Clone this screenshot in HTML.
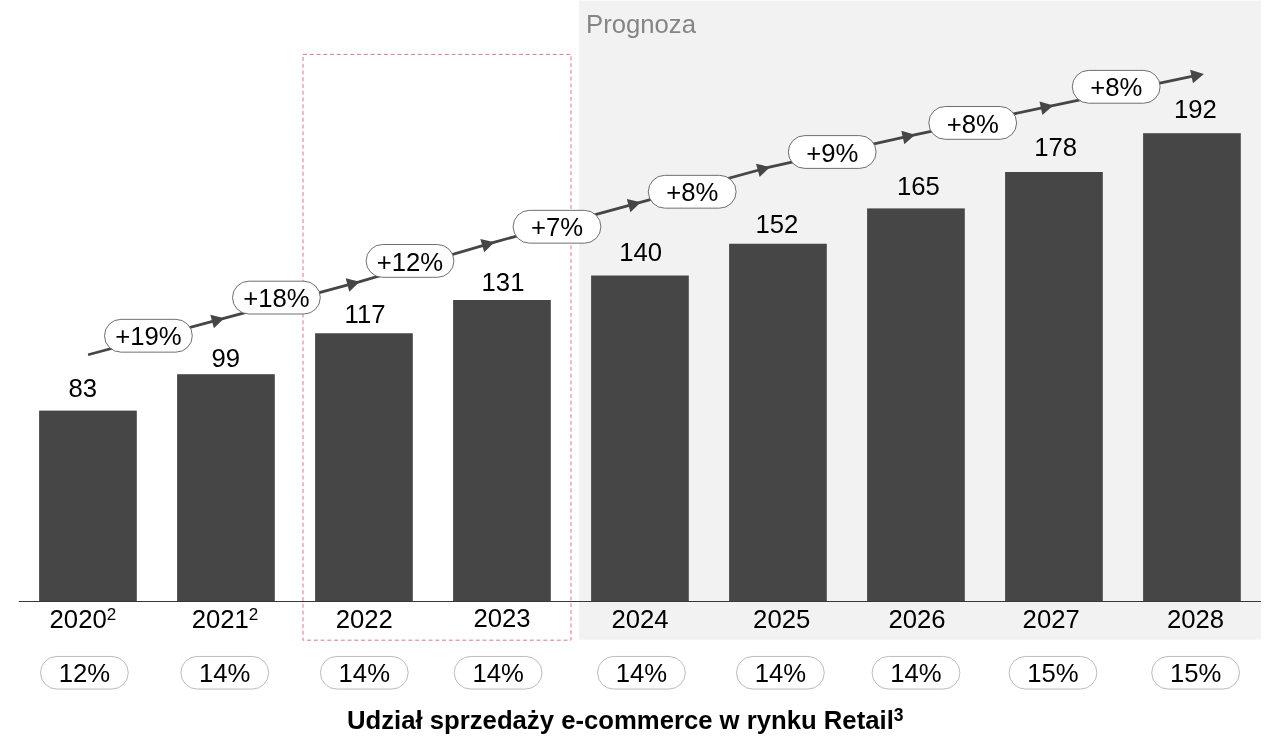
<!DOCTYPE html>
<html lang="pl"><head><meta charset="utf-8"><title>Udział sprzedaży e-commerce w rynku Retail</title>
<style>
html,body{margin:0;padding:0;background:#fff;}
body{width:1280px;height:750px;overflow:hidden;}
svg{display:block;}
text{font-family:"Liberation Sans",Arial,Helvetica,sans-serif;fill:#000;}
</style></head><body>
<svg width="1280" height="750" viewBox="0 0 1280 750">
<rect x="0" y="0" width="1280" height="750" fill="#fff"/>
<rect x="579.1" y="0.6" width="681.9" height="639.1" fill="#f2f2f2"/>
<text x="586" y="33" font-size="25.7" style="fill:#858585">Prognoza</text>
<rect x="303" y="54.4" width="268" height="585.8" fill="none" stroke="#dc7795" stroke-width="1" stroke-dasharray="4 2.75"/>
<rect x="39.1" y="410.6" width="97.7" height="191.4" fill="#464646"/>
<rect x="177.1" y="374.2" width="97.7" height="227.8" fill="#464646"/>
<rect x="315.1" y="333.25" width="97.7" height="268.75" fill="#464646"/>
<rect x="453.1" y="300" width="97.7" height="302" fill="#464646"/>
<rect x="591.1" y="275.5" width="97.7" height="326.5" fill="#464646"/>
<rect x="729.1" y="243.75" width="97.7" height="358.25" fill="#464646"/>
<rect x="867.1" y="208.4" width="97.7" height="393.6" fill="#464646"/>
<rect x="1005.1" y="172" width="97.7" height="430" fill="#464646"/>
<rect x="1143.1" y="133.2" width="97.7" height="468.8" fill="#464646"/>
<line x1="18.8" y1="601.5" x2="1261" y2="601.5" stroke="#383838" stroke-width="1"/>
<polyline points="88.1,354.75 223.7,318.4 359.1,281.9 493.8,242.3 640.2,202.4 769.4,167.2 914.5,134.85 1052.7,105.7 1195.47,75.7428" fill="none" stroke="#464646" stroke-width="2.8" stroke-linecap="butt" stroke-linejoin="round"/>
<polygon points="224.28,318.24 213.90,328.17 210.32,314.84" fill="#464646"/>
<polygon points="359.68,281.74 349.31,291.69 345.72,278.36" fill="#464646"/>
<polygon points="494.38,242.13 484.23,252.30 480.34,239.06" fill="#464646"/>
<polygon points="640.78,202.24 630.44,212.21 626.81,198.90" fill="#464646"/>
<polygon points="769.98,167.04 759.64,177.01 756.01,163.70" fill="#464646"/>
<polygon points="915.09,134.72 904.29,144.20 901.29,130.73" fill="#464646"/>
<polygon points="1053.29,105.58 1042.38,114.93 1039.53,101.43" fill="#464646"/>
<polygon points="1203.89,73.98 1192.97,83.32 1190.14,69.81" fill="#464646"/>
<rect x="104.5" y="319.35" width="87.8" height="32.8" rx="16.4" ry="16.4" fill="#fff" stroke="#555" stroke-width="0.85"/>
<text x="148.4" y="345.35" font-size="25.7" text-anchor="middle">+19%</text>
<rect x="232.5" y="281.2" width="87.8" height="32.8" rx="16.4" ry="16.4" fill="#fff" stroke="#555" stroke-width="0.85"/>
<text x="276.4" y="307.2" font-size="25.7" text-anchor="middle">+18%</text>
<rect x="366.1" y="244.5" width="87.8" height="32.8" rx="16.4" ry="16.4" fill="#fff" stroke="#555" stroke-width="0.85"/>
<text x="410" y="270.5" font-size="25.7" text-anchor="middle">+12%</text>
<rect x="513.1" y="210.35" width="87.8" height="32.8" rx="16.4" ry="16.4" fill="#fff" stroke="#555" stroke-width="0.85"/>
<text x="557" y="236.35" font-size="25.7" text-anchor="middle">+7%</text>
<rect x="648.3" y="175.35" width="87.8" height="32.8" rx="16.4" ry="16.4" fill="#fff" stroke="#555" stroke-width="0.85"/>
<text x="692.2" y="201.35" font-size="25.7" text-anchor="middle">+8%</text>
<rect x="788.3" y="135.6" width="87.8" height="32.8" rx="16.4" ry="16.4" fill="#fff" stroke="#555" stroke-width="0.85"/>
<text x="832.2" y="161.6" font-size="25.7" text-anchor="middle">+9%</text>
<rect x="928.8" y="106.5" width="87.8" height="32.8" rx="16.4" ry="16.4" fill="#fff" stroke="#555" stroke-width="0.85"/>
<text x="972.7" y="132.5" font-size="25.7" text-anchor="middle">+8%</text>
<rect x="1072.3" y="70.4" width="87.8" height="32.8" rx="16.4" ry="16.4" fill="#fff" stroke="#555" stroke-width="0.85"/>
<text x="1116.2" y="96.4" font-size="25.7" text-anchor="middle">+8%</text>
<text x="82.75" y="397" font-size="25.7" text-anchor="middle">83</text>
<text x="225.75" y="366.75" font-size="25.7" text-anchor="middle">99</text>
<text x="365" y="323" font-size="25.7" text-anchor="middle">117</text>
<text x="503" y="291.25" font-size="25.7" text-anchor="middle">131</text>
<text x="640.6" y="261.25" font-size="25.7" text-anchor="middle">140</text>
<text x="776.9" y="233" font-size="25.7" text-anchor="middle">152</text>
<text x="918.4" y="194.5" font-size="25.7" text-anchor="middle">165</text>
<text x="1055.6" y="155.5" font-size="25.7" text-anchor="middle">178</text>
<text x="1195.4" y="117.7" font-size="25.7" text-anchor="middle">192</text>
<text x="82.9" y="628.25" font-size="25.7" text-anchor="middle">2020<tspan font-size="17" dy="-8.25">2</tspan></text>
<text x="225" y="628.25" font-size="25.7" text-anchor="middle">2021<tspan font-size="17" dy="-8.25">2</tspan></text>
<text x="364.3" y="628.25" font-size="25.7" text-anchor="middle">2022</text>
<text x="502" y="627.2" font-size="25.7" text-anchor="middle">2023</text>
<text x="640" y="628.25" font-size="25.7" text-anchor="middle">2024</text>
<text x="781.7" y="628.25" font-size="25.7" text-anchor="middle">2025</text>
<text x="917" y="628.25" font-size="25.7" text-anchor="middle">2026</text>
<text x="1051.2" y="628.25" font-size="25.7" text-anchor="middle">2027</text>
<text x="1195.6" y="628.25" font-size="25.7" text-anchor="middle">2028</text>
<rect x="40.5" y="656.45" width="87.8" height="32.6" rx="16.3" ry="16.3" fill="#fff" stroke="#b3b3b3" stroke-width="0.9"/>
<text x="84.4" y="682.25" font-size="25.7" text-anchor="middle">12%</text>
<rect x="180.85" y="656.45" width="87.8" height="32.6" rx="16.3" ry="16.3" fill="#fff" stroke="#b3b3b3" stroke-width="0.9"/>
<text x="224.75" y="682.25" font-size="25.7" text-anchor="middle">14%</text>
<rect x="320.4" y="656.45" width="87.8" height="32.6" rx="16.3" ry="16.3" fill="#fff" stroke="#b3b3b3" stroke-width="0.9"/>
<text x="364.3" y="682.25" font-size="25.7" text-anchor="middle">14%</text>
<rect x="454.2" y="656.45" width="87.8" height="32.6" rx="16.3" ry="16.3" fill="#fff" stroke="#b3b3b3" stroke-width="0.9"/>
<text x="498.1" y="682.25" font-size="25.7" text-anchor="middle">14%</text>
<rect x="597.5" y="656.45" width="87.8" height="32.6" rx="16.3" ry="16.3" fill="#fff" stroke="#b3b3b3" stroke-width="0.9"/>
<text x="641.4" y="682.25" font-size="25.7" text-anchor="middle">14%</text>
<rect x="736.5" y="656.45" width="87.8" height="32.6" rx="16.3" ry="16.3" fill="#fff" stroke="#b3b3b3" stroke-width="0.9"/>
<text x="780.4" y="682.25" font-size="25.7" text-anchor="middle">14%</text>
<rect x="872.1" y="656.45" width="87.8" height="32.6" rx="16.3" ry="16.3" fill="#fff" stroke="#b3b3b3" stroke-width="0.9"/>
<text x="916" y="682.25" font-size="25.7" text-anchor="middle">14%</text>
<rect x="1009.1" y="656.45" width="87.8" height="32.6" rx="16.3" ry="16.3" fill="#fff" stroke="#b3b3b3" stroke-width="0.9"/>
<text x="1053" y="682.25" font-size="25.7" text-anchor="middle">15%</text>
<rect x="1151.7" y="656.45" width="87.8" height="32.6" rx="16.3" ry="16.3" fill="#fff" stroke="#b3b3b3" stroke-width="0.9"/>
<text x="1195.6" y="682.25" font-size="25.7" text-anchor="middle">15%</text>
<text x="347" y="728.9" font-size="25.7" font-weight="bold">Udział sprzedaży e-commerce w rynku Retail<tspan font-size="17.5" dy="-8.2">3</tspan></text>
</svg></body></html>
